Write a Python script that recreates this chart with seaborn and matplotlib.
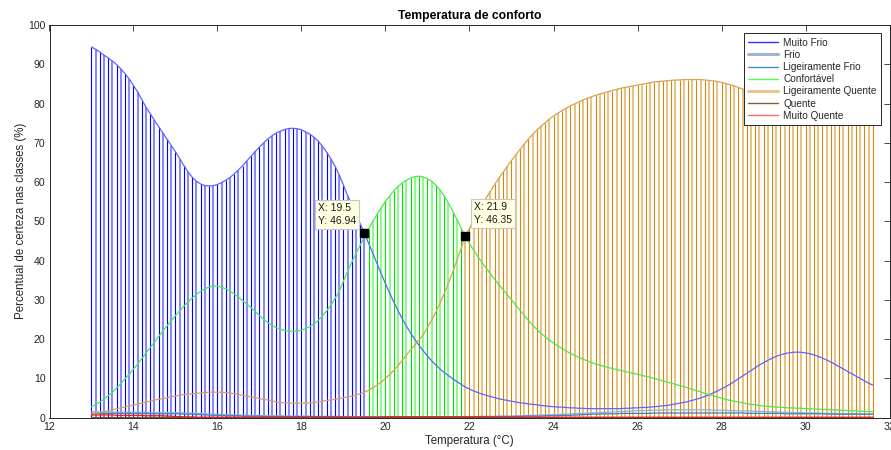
import numpy as np
import pandas as pd
import matplotlib
matplotlib.use("Agg")
import matplotlib.pyplot as plt
from matplotlib.lines import Line2D
import seaborn as sns

# Temperature grid (°C), 13.0 to 31.6 in 0.1 steps
temperatura = np.round(np.arange(130, 317) / 10.0, 1)

muito_frio = [
    94.4, 93.8, 93.1, 92.3, 91.6, 90.8, 89.9, 88.8, 87.6, 86.2,
    84.6, 82.9, 81.0, 79.0, 77.4, 75.7, 74.1, 72.5, 70.9, 69.3,
    67.7, 66.0, 64.2, 62.6, 61.2, 60.2, 59.5, 59.1, 59.0, 59.1,
    59.4, 59.9, 60.5, 61.2, 62.1, 63.1, 64.2, 65.4, 66.6, 67.8,
    68.9, 70.0, 71.0, 71.8, 72.5, 73.0, 73.4, 73.65, 73.7, 73.6,
    73.3, 72.8, 72.2, 71.4, 70.4, 69.1, 67.6, 65.9, 64.0, 61.8,
    59.2, 56.5, 54.1, 51.7, 49.3, 46.94, 44.4, 41.8, 39.2, 36.6,
    34.1, 31.7, 29.4, 27.2, 25.2, 23.3, 21.5, 19.9, 18.4, 17.0,
    15.7, 14.5, 13.4, 12.4, 11.5, 10.7, 9.9, 9.2, 8.5, 7.8,
    7.3, 6.8, 6.4, 6.0, 5.7, 5.4, 5.1, 4.8, 4.6, 4.4,
    4.2, 4.0, 3.8, 3.7, 3.5, 3.4, 3.3, 3.1, 3.0, 2.9,
    2.8, 2.7, 2.7, 2.6, 2.5, 2.5, 2.4, 2.4, 2.3, 2.3,
    2.3, 2.3, 2.3, 2.3, 2.3, 2.3, 2.3, 2.4, 2.4, 2.5,
    2.5, 2.6, 2.6, 2.7, 2.8, 2.9, 3.0, 3.1, 3.3, 3.5,
    3.7, 3.9, 4.1, 4.4, 4.7, 5.0, 5.4, 5.8, 6.3, 6.8,
    7.3, 7.9, 8.5, 9.2, 9.9, 10.6, 11.3, 12.0, 12.7, 13.4,
    14.0, 14.6, 15.1, 15.6, 16.0, 16.3, 16.5, 16.65, 16.7, 16.65,
    16.5, 16.3, 16.0, 15.6, 15.2, 14.7, 14.2, 13.6, 13.0, 12.4,
    11.8, 11.2, 10.6, 10.0, 9.4, 8.8, 8.3,
]

frio = [
    1.5, 1.5, 1.5, 1.5, 1.5, 1.5, 1.4, 1.4, 1.4, 1.4,
    1.4, 1.4, 1.4, 1.4, 1.3, 1.3, 1.3, 1.3, 1.3, 1.3,
    1.3, 1.3, 1.2, 1.2, 1.2, 1.1, 1.1, 1.0, 1.0, 0.9,
    0.9, 0.8, 0.8, 0.8, 0.7, 0.7, 0.7, 0.6, 0.6, 0.6,
    0.6, 0.5, 0.5, 0.5, 0.5, 0.5, 0.4, 0.4, 0.4, 0.4,
    0.4, 0.4, 0.4, 0.3, 0.3, 0.3, 0.3, 0.3, 0.3, 0.3,
    0.3, 0.3, 0.3, 0.3, 0.3, 0.3, 0.3, 0.3, 0.3, 0.3,
    0.3, 0.3, 0.3, 0.3, 0.3, 0.2, 0.2, 0.2, 0.2, 0.2,
    0.2, 0.2, 0.2, 0.2, 0.2, 0.2, 0.2, 0.2, 0.2, 0.2,
    0.2, 0.2, 0.3, 0.3, 0.3, 0.3, 0.3, 0.4, 0.4, 0.4,
    0.4, 0.5, 0.5, 0.5, 0.6, 0.6, 0.6, 0.7, 0.7, 0.7,
    0.8, 0.8, 0.9, 0.9, 1.0, 1.0, 1.1, 1.1, 1.2, 1.2,
    1.3, 1.3, 1.4, 1.4, 1.5, 1.5, 1.6, 1.6, 1.7, 1.7,
    1.8, 1.8, 1.8, 1.9, 1.9, 1.9, 2.0, 2.0, 2.0, 2.0,
    2.0, 2.0, 2.0, 2.0, 2.0, 2.0, 2.0, 2.0, 1.9, 1.9,
    1.9, 1.9, 1.8, 1.8, 1.8, 1.7, 1.7, 1.7, 1.6, 1.6,
    1.6, 1.5, 1.5, 1.5, 1.4, 1.4, 1.4, 1.3, 1.3, 1.3,
    1.2, 1.2, 1.2, 1.2, 1.1, 1.1, 1.1, 1.1, 1.0, 1.0,
    1.0, 1.0, 1.0, 0.9, 0.9, 0.9, 0.9,
]

ligeiramente_frio = [
    1.1, 1.1, 1.1, 1.1, 1.1, 1.1, 1.1, 1.1, 1.1, 1.1,
    1.1, 1.1, 1.1, 1.1, 1.0, 1.0, 1.0, 1.0, 1.0, 1.0,
    1.0, 1.0, 0.9, 0.9, 0.9, 0.8, 0.8, 0.7, 0.7, 0.6,
    0.6, 0.6, 0.5, 0.5, 0.5, 0.5, 0.4, 0.4, 0.4, 0.4,
    0.4, 0.3, 0.3, 0.3, 0.3, 0.3, 0.3, 0.3, 0.3, 0.3,
    0.3, 0.3, 0.3, 0.3, 0.3, 0.3, 0.3, 0.3, 0.3, 0.3,
    0.2, 0.2, 0.2, 0.2, 0.2, 0.2, 0.2, 0.2, 0.2, 0.2,
    0.2, 0.2, 0.2, 0.2, 0.2, 0.2, 0.2, 0.2, 0.2, 0.2,
    0.2, 0.2, 0.2, 0.2, 0.2, 0.2, 0.2, 0.2, 0.2, 0.2,
    0.2, 0.2, 0.2, 0.3, 0.3, 0.3, 0.3, 0.3, 0.3, 0.3,
    0.3, 0.3, 0.3, 0.4, 0.4, 0.4, 0.4, 0.4, 0.5, 0.5,
    0.5, 0.5, 0.6, 0.6, 0.6, 0.7, 0.7, 0.8, 0.8, 0.9,
    0.9, 0.9, 1.0, 1.0, 1.0, 1.0, 1.1, 1.1, 1.1, 1.1,
    1.1, 1.1, 1.1, 1.1, 1.2, 1.2, 1.2, 1.2, 1.2, 1.2,
    1.2, 1.2, 1.2, 1.2, 1.2, 1.2, 1.2, 1.2, 1.2, 1.2,
    1.2, 1.2, 1.2, 1.2, 1.2, 1.2, 1.1, 1.1, 1.1, 1.1,
    1.1, 1.1, 1.1, 1.1, 1.1, 1.0, 1.0, 1.0, 1.0, 1.0,
    1.0, 1.0, 1.0, 1.0, 1.0, 0.9, 0.9, 0.9, 0.9, 0.9,
    0.9, 0.9, 0.9, 0.9, 0.9, 0.9, 0.9,
]

confortavel = [
    2.8, 3.3, 4.0, 4.8, 5.6, 6.5, 7.6, 8.7, 9.9, 11.1,
    12.4, 13.7, 15.1, 16.5, 17.9, 19.3, 20.7, 22.1, 23.4, 24.7,
    26.0, 27.2, 28.4, 29.5, 30.5, 31.4, 32.2, 32.8, 33.3, 33.5,
    33.5, 33.2, 32.8, 32.2, 31.5, 30.7, 29.8, 28.9, 28.0, 27.0,
    26.0, 25.1, 24.2, 23.5, 22.9, 22.5, 22.2, 22.0, 22.0, 22.1,
    22.3, 22.7, 23.2, 23.9, 24.8, 25.9, 27.2, 28.7, 30.4, 32.2,
    34.8, 37.3, 39.7, 41.9, 44.0, 46.1, 48.1, 50.0, 51.8, 53.5,
    55.1, 56.5, 57.8, 58.9, 59.8, 60.5, 61.0, 61.4, 61.5, 61.3,
    60.9, 60.2, 59.2, 58.0, 56.4, 54.6, 52.6, 50.5, 48.3, 46.1,
    44.3, 42.6, 41.0, 39.5, 38.0, 36.6, 35.2, 33.9, 32.6, 31.3,
    30.0, 28.7, 27.4, 26.1, 24.8, 23.6, 22.5, 21.5, 20.6, 19.8,
    19.0, 18.3, 17.6, 17.0, 16.4, 15.9, 15.4, 14.9, 14.5, 14.1,
    13.7, 13.4, 13.1, 12.8, 12.5, 12.3, 12.0, 11.8, 11.5, 11.3,
    11.1, 10.8, 10.5, 10.3, 10.0, 9.7, 9.4, 9.1, 8.8, 8.5,
    8.2, 7.9, 7.6, 7.2, 6.9, 6.6, 6.2, 5.9, 5.6, 5.3,
    5.0, 4.7, 4.4, 4.2, 4.0, 3.8, 3.6, 3.4, 3.3, 3.1,
    3.0, 2.9, 2.8, 2.7, 2.7, 2.6, 2.5, 2.5, 2.4, 2.4,
    2.3, 2.3, 2.2, 2.2, 2.1, 2.1, 2.0, 2.0, 1.9, 1.9,
    1.8, 1.8, 1.7, 1.7, 1.6, 1.6, 1.5,
]

ligeiramente_quente = [
    0.9, 1.1, 1.3, 1.5, 1.8, 2.0, 2.3, 2.5, 2.8, 3.0,
    3.2, 3.5, 3.7, 4.0, 4.2, 4.5, 4.7, 4.9, 5.1, 5.3,
    5.5, 5.7, 5.9, 6.0, 6.1, 6.2, 6.3, 6.4, 6.5, 6.5,
    6.5, 6.5, 6.4, 6.3, 6.1, 5.9, 5.7, 5.5, 5.3, 5.1,
    4.9, 4.7, 4.5, 4.3, 4.0, 3.9, 3.8, 3.7, 3.7, 3.7,
    3.7, 3.7, 3.8, 3.9, 4.0, 4.2, 4.4, 4.5, 4.7, 4.9,
    5.1, 5.3, 5.5, 5.8, 6.1, 6.5, 7.0, 7.6, 8.3, 9.1,
    10.0, 11.0, 12.1, 13.3, 14.6, 16.0, 17.3, 18.5, 19.8, 21.2,
    23.0, 24.9, 27.0, 29.2, 31.7, 34.3, 37.1, 40.1, 43.1, 46.35,
    48.2, 50.3, 52.3, 54.2, 56.0, 57.7, 59.4, 61.0, 62.5, 64.0,
    65.5, 66.9, 68.3, 69.6, 70.9, 72.1, 73.2, 74.2, 75.1, 76.0,
    76.8, 77.5, 78.2, 78.8, 79.4, 79.9, 80.4, 80.9, 81.3, 81.7,
    82.1, 82.4, 82.7, 83.0, 83.3, 83.6, 83.9, 84.1, 84.3, 84.5,
    84.7, 84.9, 85.1, 85.3, 85.5, 85.6, 85.7, 85.8, 85.9, 86.0,
    86.0, 86.1, 86.1, 86.1, 86.1, 86.1, 86.0, 85.9, 85.8, 85.6,
    85.4, 85.1, 84.8, 84.5, 84.1, 83.7, 83.3, 82.9, 82.5, 82.1,
    81.3, 80.8, 80.4, 80.0, 79.7, 79.4, 79.3, 79.2, 79.2, 79.3,
    79.5, 79.8, 80.1, 80.5, 81.0, 81.5, 82.0, 82.6, 83.2, 83.8,
    84.4, 85.0, 85.6, 86.2, 86.8, 87.4, 88.0,
]

quente = [
    0.3, 0.3, 0.3, 0.3, 0.3, 0.3, 0.3, 0.3, 0.3, 0.3,
    0.3, 0.3, 0.3, 0.3, 0.3, 0.3, 0.3, 0.3, 0.3, 0.3,
    0.3, 0.3, 0.3, 0.3, 0.3, 0.3, 0.3, 0.3, 0.3, 0.3,
    0.3, 0.3, 0.3, 0.3, 0.3, 0.3, 0.3, 0.3, 0.3, 0.3,
    0.3, 0.3, 0.3, 0.3, 0.3, 0.3, 0.3, 0.3, 0.3, 0.3,
    0.3, 0.3, 0.3, 0.3, 0.3, 0.3, 0.3, 0.3, 0.3, 0.3,
    0.3, 0.3, 0.3, 0.3, 0.3, 0.3, 0.3, 0.3, 0.3, 0.3,
    0.3, 0.3, 0.3, 0.3, 0.3, 0.3, 0.3, 0.3, 0.3, 0.3,
    0.3, 0.3, 0.3, 0.3, 0.3, 0.3, 0.3, 0.3, 0.3, 0.3,
    0.3, 0.3, 0.3, 0.3, 0.3, 0.3, 0.3, 0.3, 0.3, 0.3,
    0.3, 0.3, 0.3, 0.3, 0.3, 0.3, 0.3, 0.3, 0.3, 0.3,
    0.3, 0.3, 0.3, 0.3, 0.3, 0.3, 0.3, 0.3, 0.3, 0.3,
    0.3, 0.3, 0.3, 0.3, 0.3, 0.3, 0.3, 0.3, 0.3, 0.3,
    0.3, 0.3, 0.3, 0.3, 0.3, 0.3, 0.3, 0.3, 0.3, 0.3,
    0.3, 0.3, 0.3, 0.3, 0.3, 0.3, 0.3, 0.3, 0.3, 0.3,
    0.3, 0.3, 0.3, 0.3, 0.3, 0.3, 0.3, 0.3, 0.3, 0.3,
    0.3, 0.3, 0.3, 0.3, 0.3, 0.3, 0.3, 0.3, 0.3, 0.3,
    0.3, 0.3, 0.3, 0.3, 0.3, 0.3, 0.3, 0.3, 0.3, 0.3,
    0.3, 0.3, 0.3, 0.3, 0.3, 0.3, 0.3,
]

muito_quente = [
    0.7, 0.7, 0.7, 0.7, 0.7, 0.7, 0.6, 0.6, 0.6, 0.6,
    0.6, 0.6, 0.6, 0.5, 0.5, 0.5, 0.5, 0.5, 0.4, 0.4,
    0.3, 0.3, 0.2, 0.2, 0.2, 0.1, 0.1, 0.1, 0.1, 0.1,
    0.1, 0.1, 0.1, 0.1, 0.1, 0.1, 0.1, 0.1, 0.1, 0.1,
    0.1, 0.1, 0.1, 0.1, 0.1, 0.1, 0.1, 0.1, 0.1, 0.1,
    0.1, 0.1, 0.1, 0.1, 0.1, 0.1, 0.1, 0.1, 0.1, 0.1,
    0.1, 0.1, 0.1, 0.1, 0.1, 0.1, 0.1, 0.1, 0.1, 0.1,
    0.2, 0.2, 0.2, 0.2, 0.2, 0.2, 0.2, 0.2, 0.2, 0.2,
    0.2, 0.2, 0.2, 0.2, 0.2, 0.2, 0.2, 0.2, 0.2, 0.2,
    0.2, 0.2, 0.2, 0.2, 0.2, 0.1, 0.1, 0.1, 0.1, 0.1,
    0.1, 0.1, 0.1, 0.1, 0.1, 0.1, 0.1, 0.1, 0.1, 0.1,
    0.1, 0.1, 0.1, 0.1, 0.1, 0.1, 0.1, 0.1, 0.1, 0.1,
    0.1, 0.1, 0.1, 0.1, 0.1, 0.1, 0.1, 0.1, 0.1, 0.1,
    0.1, 0.1, 0.1, 0.1, 0.1, 0.1, 0.1, 0.1, 0.1, 0.1,
    0.1, 0.1, 0.1, 0.1, 0.1, 0.1, 0.1, 0.1, 0.1, 0.1,
    0.1, 0.1, 0.1, 0.1, 0.1, 0.1, 0.1, 0.1, 0.1, 0.1,
    0.1, 0.1, 0.1, 0.1, 0.1, 0.1, 0.1, 0.1, 0.1, 0.1,
    0.1, 0.1, 0.1, 0.1, 0.1, 0.1, 0.1, 0.1, 0.1, 0.1,
    0.1, 0.1, 0.1, 0.1, 0.1, 0.1, 0.1,
]

classes = ["Muito Frio", "Frio", "Ligeiramente Frio", "Confortável",
           "Ligeiramente Quente", "Quente", "Muito Quente"]
series = [muito_frio, frio, ligeiramente_frio, confortavel,
          ligeiramente_quente, quente, muito_quente]

# Data tips shown on the chart
tips_x = [19.5, 21.9]
tips_y = [46.94, 46.35]

# colours: curve line, legend line, stem (dark), stem (light)
curve_colors = {
    "Muito Frio": "#6262ff",
    "Frio": "#8fb0d8",
    "Ligeiramente Frio": "#3f7fb5",
    "Confortável": "#4ee84e",
    "Ligeiramente Quente": "#d8a24e",
    "Quente": "#8b4a1a",
    "Muito Quente": "#e02020",
}
legend_style = {
    "Muito Frio": ("#3030ff", 1.0),
    "Frio": ("#9db4d2", 2.2),
    "Ligeiramente Frio": ("#4a8cc2", 1.0),
    "Confortável": ("#50ff50", 1.0),
    "Ligeiramente Quente": ("#e8c890", 2.2),
    "Quente": ("#8b5a2b", 1.0),
    "Muito Quente": ("#ff6a6a", 1.0),
}
stem_colors = {
    "Muito Frio": ("#0000ff", "#8a8aff"),
    "Confortável": ("#00e000", "#90f890"),
    "Ligeiramente Quente": ("#cc8a10", "#e6c386"),
}

df = pd.DataFrame({"Temperatura": np.tile(temperatura, len(classes)),
                   "Certeza": np.concatenate(series),
                   "Classe": np.repeat(classes, len(temperatura))})

sns.set_style("white")
plt.rcParams["font.family"] = ["Liberation Sans", "DejaVu Sans"]
ink = "#262626"

fig = plt.figure(figsize=(8.91, 4.5), dpi=100)
ax = fig.add_axes([49.5 / 891, (450 - 417.7) / 450, 840 / 891, 392.7 / 450])

# Vertical stems: one per temperature, coloured by the dominant class
values = np.array(series)
dominant = values.argmax(axis=0)
heights = values.max(axis=0)
for i, (t, k, h) in enumerate(zip(temperatura, dominant, heights)):
    dark, light = stem_colors.get(classes[k], (curve_colors[classes[k]],) * 2)
    if i % 2 == 0:
        ax.vlines(t, 0, h, colors=dark, linewidth=0.8, zorder=1)
    else:
        ax.vlines(t, 0, h, colors=light, linewidth=1.5, zorder=1)

# Certainty curves for each class
sns.lineplot(data=df, x="Temperatura", y="Certeza", hue="Classe",
             hue_order=classes, palette=curve_colors, linewidth=0.9,
             legend=False, sort=False, ax=ax, zorder=3)

# Data tips
ax.plot(tips_x, tips_y, linestyle="none", marker="s", markersize=5.5,
        color="black", zorder=6)
tip_offsets = [(-6.0, 5.5, "right"), (6.5, 7.5, "left")]
for tx, ty, (dx, dy, ha) in zip(tips_x, tips_y, tip_offsets):
    ax.annotate(f"X: {tx:g}\nY: {ty:.2f}", xy=(tx, ty), xytext=(dx, dy),
                textcoords="offset points", ha=ha, va="bottom",
                multialignment="left",
                fontsize=7.5, color="#1a1a1a", linespacing=1.35, zorder=7,
                bbox=dict(boxstyle="square,pad=0.3", facecolor="#ffffe1",
                          edgecolor="#c8c8c0", linewidth=0.8))

ax.set_xlim(12, 32)
ax.set_ylim(0, 100)
ax.set_xticks(np.arange(12, 33, 2))
ax.set_yticks(np.arange(0, 101, 10))
ax.tick_params(direction="in", length=4, width=0.6, top=True, right=True,
               labelsize=7.6, colors=ink, pad=3)
for side in ax.spines.values():
    side.set_color(ink)
    side.set_linewidth(0.7)

ax.set_title("Temperatura de conforto", fontsize=8.7, fontweight="bold",
             color="black", pad=4.5)
ax.set_xlabel("Temperatura (°C)", fontsize=8.3, color=ink, labelpad=2)
ax.set_ylabel("Percentual de certeza nas classes (%)", fontsize=8.3,
              color=ink, labelpad=1)

handles = [Line2D([0], [0], color=legend_style[c][0],
                  linewidth=legend_style[c][1]) for c in classes]
leg = ax.legend(handles, classes, loc="upper right",
                bbox_to_anchor=(0.996, 0.992), fontsize=7.2,
                handlelength=3.0, handletextpad=0.5, labelspacing=0.22,
                borderpad=0.45, fancybox=False, framealpha=1,
                edgecolor=ink)
leg.get_frame().set_linewidth(0.7)
leg.set_zorder(10)

fig.savefig("out.png", dpi=100, facecolor="white")
